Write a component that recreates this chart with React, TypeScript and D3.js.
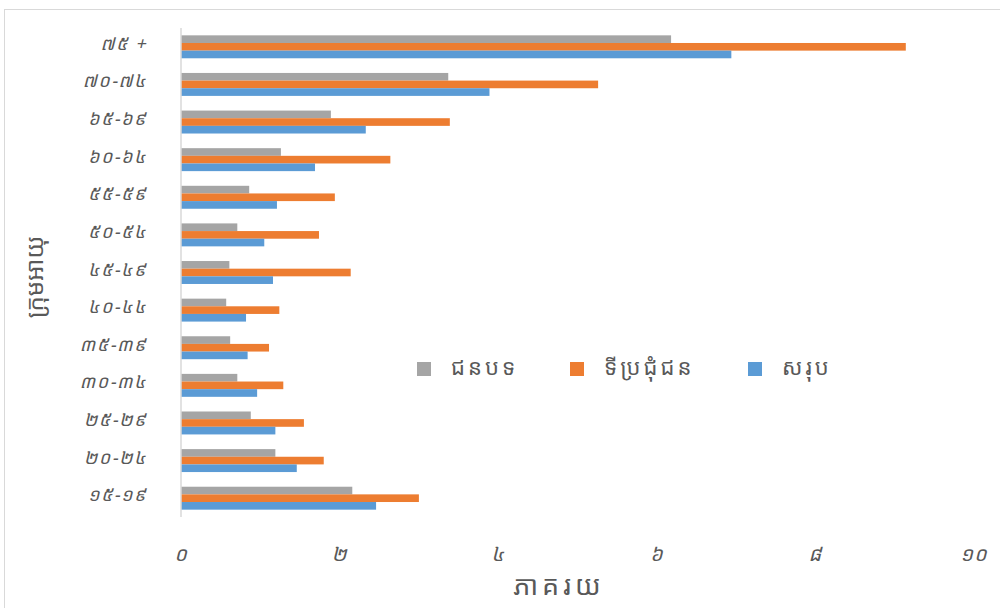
import * as d3 from "d3";

const categories = [
  "៧៥ +",
  "៧០-៧៤",
  "៦៥-៦៩",
  "៦០-៦៤",
  "៥៥-៥៩",
  "៥០-៥៤",
  "៤៥-៤៩",
  "៤០-៤៤",
  "៣៥-៣៩",
  "៣០-៣៤",
  "២៥-២៩",
  "២០-២៤",
  "១៥-១៩",
];

const seriesNames = ["ជនបទ", "ទីប្រជុំជន", "សរុប"];
const seriesColors = ["#a5a5a5", "#ed7d31", "#5b9bd5"];

// same order as categories (top to bottom)
const rural = [6.18, 3.37, 1.89, 1.26, 0.86, 0.71, 0.61, 0.57, 0.62, 0.71, 0.88, 1.19, 2.16];
const urban = [9.14, 5.26, 3.39, 2.64, 1.94, 1.74, 2.14, 1.24, 1.11, 1.29, 1.55, 1.8, 3.0];
const total = [6.94, 3.89, 2.33, 1.69, 1.21, 1.05, 1.16, 0.82, 0.84, 0.96, 1.19, 1.46, 2.46];

const xTicks = [0, 2, 4, 6, 8, 10];
const xTickLabels = ["០", "២", "៤", "៦", "៨", "១០"];

const xTitle = "ភាគរយ";
const yTitle = "ក្រុមអាយុ";

const font = "'Khmer OS', 'Noto Sans Khmer', 'Noto Sans', 'DejaVu Sans', sans-serif";

export default function App() {
  const width = 1000;
  const height = 608;
  const left = 181;
  const right = 974;
  const top = 28;
  const bottom = 517;

  const values = [rural, urban, total];

  const x = d3.scaleLinear().domain([0, 10]).range([left, right]);
  const y = d3
    .scaleBand()
    .domain(categories)
    .range([top, bottom])
    .paddingInner(0.39)
    .paddingOuter(0.195);
  const ySub = d3
    .scaleBand()
    .domain(seriesNames)
    .range([0, y.bandwidth()]);

  const legendX = [417, 570, 748];

  return (
    <div style={{ position: "absolute", left: 0, top: 0 }}>
      <svg width={width} height={height} style={{ display: "block", fontFamily: font }}>
        <rect x={0} y={0} width={width} height={height} fill="#fff" />
        <rect
          x={4.5}
          y={9.5}
          width={1000}
          height={620}
          fill="none"
          stroke="#d9d9d9"
          strokeWidth={1}
        />

        {/* bars */}
        {categories.map((c, i) => (
          <g key={c}>
            {seriesNames.map((s, j) => (
              <rect
                key={s}
                x={x(0)}
                y={y(c)! + ySub(s)!}
                width={x(values[j][i]) - x(0)}
                height={ySub.bandwidth()}
                fill={seriesColors[j]}
              />
            ))}
          </g>
        ))}

        {/* y axis line */}
        <line x1={x(0)} x2={x(0)} y1={top} y2={bottom} stroke="#d9d9d9" strokeWidth={1.5} />

        {/* category labels */}
        <g fill="#595959" fontStyle="italic" fontSize={18} letterSpacing={1.5} textAnchor="end">
          {categories.map((c) => (
            <text key={c} x={147} y={y(c)! + y.bandwidth() / 2 - 4} dominantBaseline="central">
              {c}
            </text>
          ))}
        </g>

        {/* x tick labels */}
        <g fill="#595959" fontStyle="italic" fontSize={20} letterSpacing={1} textAnchor="middle">
          {xTicks.map((t, i) => (
            <text key={t} x={x(t)} y={553} dominantBaseline="central">
              {xTickLabels[i]}
            </text>
          ))}
        </g>

        {/* axis titles */}
        <text
          x={559}
          y={584}
          fill="#595959"
          fontSize={27}
          letterSpacing={4}
          textAnchor="middle"
          dominantBaseline="central"
        >
          {xTitle}
        </text>
        <text
          transform="translate(33,277) rotate(-90)"
          fill="#595959"
          fontSize={24}
          textAnchor="middle"
          dominantBaseline="central"
        >
          {yTitle}
        </text>

        {/* legend */}
        <g>
          {seriesNames.map((s, j) => (
            <g key={s} transform={`translate(${legendX[j]},369)`}>
              <rect x={0} y={-7} width={14} height={14} fill={seriesColors[j]} />
              <text
                x={34}
                y={-3}
                fill="#595959"
                fontSize={22}
                letterSpacing={3}
                dominantBaseline="central"
              >
                {s}
              </text>
            </g>
          ))}
        </g>
      </svg>
    </div>
  );
}
